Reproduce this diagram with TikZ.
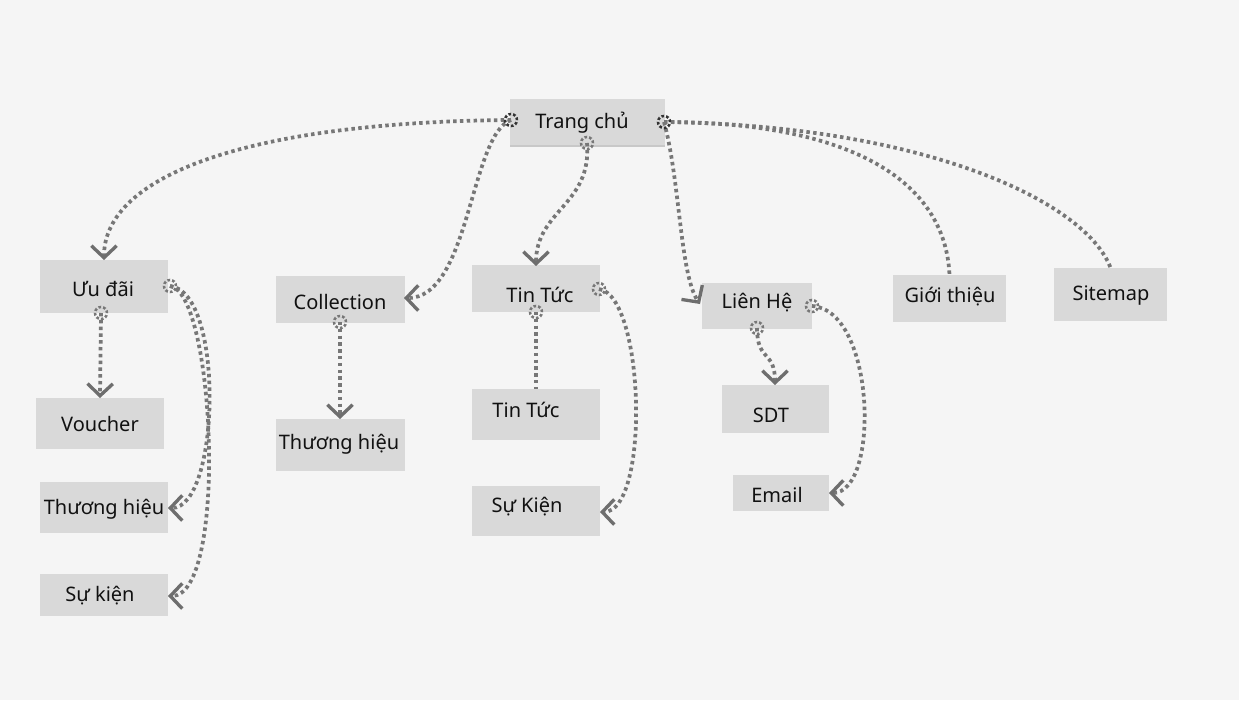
\documentclass[tikz,border=0pt]{standalone}
\usepackage{fontspec}
\setmainfont{Noto Sans}
\usetikzlibrary{arrows.meta,shadows}
\definecolor{bg}{HTML}{F5F5F5}
\definecolor{boxc}{HTML}{D9D9D9}
\definecolor{linec}{HTML}{777777}
\definecolor{tipc}{HTML}{6E6E6E}
\definecolor{txtc}{HTML}{111111}
\tikzset{
  bx/.style 2 args={draw=none, fill=boxc, inner sep=0pt, minimum width={#1*0.75pt}, minimum height={#2*0.75pt}},
  txt/.style={inner sep=0pt, text=txtc, yshift=-1.5pt, font=\fontsize{15pt}{17pt}\selectfont},
  link/.style={draw=linec, line width=2.8pt, dash pattern=on 2.6pt off 2.5pt},
  arr/.style={link, -{Straight Barb[length=9pt,width=19pt,line width=2.5pt,color=tipc]}},
  startc/.style={draw=linec, line width=1.9pt, dash pattern=on 1.9pt off 1.6pt},
  startd/.style={draw=black!80, line width=1.9pt, dash pattern=on 1.9pt off 1.6pt},
}
\begin{document}
\begin{tikzpicture}[x=0.75pt,y=-0.75pt]
\path[fill=bg] (0,0) rectangle (1239,700);
\useasboundingbox (0,0) rectangle (1239,700);

% boxes
\node[bx={155}{46}, drop shadow={shadow xshift=0pt, shadow yshift=-1.8pt, opacity=.18, fill=black}] (tc) at (587.5,122) {};
\node[bx={128}{53}] (uu) at (104,286.5) {};
\node[bx={128}{51}] (vc) at (100,423.5) {};
\node[bx={128}{51}] (thl) at (104,507.5) {};
\node[bx={128}{42}] (skl) at (104,595) {};
\node[bx={129}{47}] (col) at (340.5,299.5) {};
\node[bx={129}{52}] (thm) at (340.5,445) {};
\node[bx={128}{47}] (tta) at (536,288.5) {};
\node[bx={128}{51}] (ttb) at (536,414.5) {};
\node[bx={128}{50}] (skm) at (536,511) {};
\node[bx={110}{46}] (lh) at (757,306) {};
\node[bx={107}{48}] (sdt) at (775.5,409) {};
\node[bx={96}{36}] (em) at (781,493) {};
\node[bx={113}{47}] (gt) at (949.5,298.5) {};
\node[bx={113}{53}] (sm) at (1110.5,294.5) {};

% texts
\node[txt] (ttc) at (582,121) {Trang chủ};
\node[txt] (tuu) at (103,287) {Ưu đãi};
\node[txt] (tvc) at (100,422) {Voucher};
\node[txt] (tthl) at (104,507) {Thương hiệu};
\node[txt] (tskl) at (100,594) {Sự kiện};
\node[txt] (tcol) at (340,300) {Collection};
\node[txt] (tthm) at (339,442) {Thương hiệu};
\node[txt] (ttta) at (540,293) {Tin Tức};
\node[txt] (tttb) at (526,408) {Tin Tức};
\node[txt] (tskm) at (527,505) {Sự Kiện};
\node[txt] (tlh) at (757,301) {Liên Hệ};
\node[txt] (tsdt) at (771,413) {SDT};
\node[txt] (tem) at (777,493) {Email};
\node[txt] (tgt) at (950,295) {Giới thiệu};
\node[txt] (tsm) at (1111,294) {Sitemap};

% anchor coordinates
\coordinate (tcw) at (511,120);
\coordinate (tce) at (664,122);
\coordinate (tcs) at (587,143);
\coordinate (uus) at (101,313);
\coordinate (uue) at (170,286);
\coordinate (cols) at (340,322);
\coordinate (ttas) at (536,312);
\coordinate (ttae) at (599,289);
\coordinate (lhs) at (757,328);
\coordinate (lhe) at (812,306);
% arrow ends
\coordinate (uun) at (104,260);
\coordinate (cole) at (404,298);
\coordinate (ttan) at (536,266);
\coordinate (lhw) at (700,304);
\coordinate (vcn) at (100,398);
\coordinate (thle) at (168,508);
\coordinate (skle) at (168,596);
\coordinate (thmn) at (340,419);
\coordinate (skme) at (600,512);
\coordinate (sdtn) at (775,385);
\coordinate (eme) at (829,493);

% connectors from Trang chu
\draw[arr] (tcw) .. controls (250,122) and (104,175) .. (uun);
\draw[arr] (tcw) .. controls (470,135) and (470,298) .. (cole);
\draw[arr] (tcs) .. controls (592,205) and (536,210) .. (ttan);
\draw[arr] (tce) .. controls (680,180) and (680,275) .. (lhw);
\draw[link] (tce) .. controls (850,122) and (945,180) .. (gt.north);
\draw[link] (tce) .. controls (920,125) and (1085,200) .. (sm.north);

% second level
\draw[arr] (uus) -- (vcn);
\draw[arr] (uue) .. controls (225,292) and (220,508) .. (thle);
\draw[arr] (uue) .. controls (215,292) and (228,596) .. (skle);
\draw[arr] (cols) -- (thmn);
\draw[link] (ttas) -- (ttb.north);
\draw[arr] (ttae) .. controls (645,296) and (650,512) .. (skme);
\draw[arr] (lhs) .. controls (757,362) and (775,350) .. (sdtn);
\draw[arr] (lhe) .. controls (876,310) and (880,493) .. (eme);

% start handles
\foreach \p in {uus,uue,cols,ttas,ttae,lhs,lhe}
  \draw[startc] (\p) circle[radius=4.5pt];
\foreach \p in {tcw,tce}
  \draw[startd] (\p) circle[radius=4.5pt];
\draw[startc] (tcs) circle[radius=4.5pt];
\end{tikzpicture}
\end{document}
